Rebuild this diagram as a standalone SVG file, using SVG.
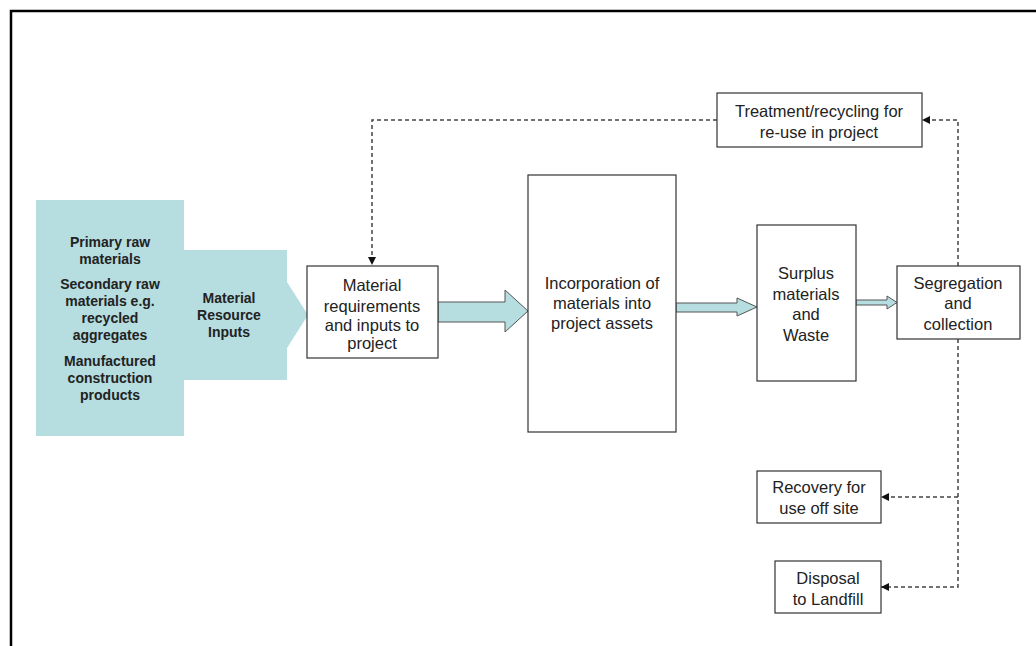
<svg xmlns="http://www.w3.org/2000/svg" width="1036" height="646" viewBox="0 0 1036 646">
<defs>
<style>
.box{fill:#fff;stroke:#333;stroke-width:1.2}
.t{font-family:"Liberation Sans",Arial,sans-serif;font-size:16.5px;fill:#222;text-anchor:middle}
.b{font-family:"Liberation Sans",Arial,sans-serif;font-size:14px;font-weight:bold;fill:#222;text-anchor:middle}
.blue{fill:#b6dde0;stroke:#555;stroke-width:1}
.dash{fill:none;stroke:#444;stroke-width:1.5;stroke-dasharray:4 3}
</style>
<marker id="ah" viewBox="0 0 10 10" refX="10" refY="5" markerWidth="8" markerHeight="8" markerUnits="userSpaceOnUse" orient="auto">
<path d="M0,0 L10,5 L0,10 Z" fill="#111"/>
</marker>
</defs>
<rect width="1036" height="646" fill="#fff"/>
<path d="M11,646 V11 H1036" fill="none" stroke="#000" stroke-width="2.5"/>

<g id="inputs">
<polygon points="36,200 184,200 184,250 287,250 287,282 308,315 287,348 287,380 184,380 184,436 36,436" fill="#b6dde0"/>
<text class="b" x="110" y="247">Primary raw</text>
<text class="b" x="110" y="264">materials</text>
<text class="b" x="110" y="289">Secondary raw</text>
<text class="b" x="110" y="306">materials e.g.</text>
<text class="b" x="110" y="323">recycled</text>
<text class="b" x="110" y="340">aggregates</text>
<text class="b" x="110" y="366">Manufactured</text>
<text class="b" x="110" y="383">construction</text>
<text class="b" x="110" y="400">products</text>
<text class="b" x="229" y="303">Material</text>
<text class="b" x="229" y="320">Resource</text>
<text class="b" x="229" y="337">Inputs</text>
</g>

<g id="connectors">
<polygon class="blue" points="438,302 505,302 505,290 528,311 505,332 505,322 438,322"/>
<polygon class="blue" points="676,303 737,303 737,298 757,307 737,316 737,312 676,312"/>
<polygon class="blue" points="856,300 887,300 887,296 897,302.5 887,309 887,305 856,305"/>
<path class="dash" d="M717,120 H372 V265" marker-end="url(#ah)"/>
<path class="dash" d="M958,266 V120 H922" marker-end="url(#ah)"/>
<path class="dash" d="M958,339 V587 H881" marker-end="url(#ah)"/>
<path class="dash" d="M958,497 H881" marker-end="url(#ah)"/>
</g>

<g id="requirements">
<rect class="box" x="307" y="266" width="131" height="92"/>
<text class="t" x="372" y="291">Material</text>
<text class="t" x="372" y="312">requirements</text>
<text class="t" x="372" y="331">and inputs to</text>
<text class="t" x="372" y="349">project</text>
</g>

<g id="incorporation">
<rect class="box" x="528" y="175" width="148" height="257"/>
<text class="t" x="602" y="289">Incorporation of</text>
<text class="t" x="602" y="309">materials into</text>
<text class="t" x="602" y="329">project assets</text>
</g>

<g id="surplus">
<rect class="box" x="757" y="225" width="99" height="156"/>
<text class="t" x="806" y="279">Surplus</text>
<text class="t" x="806" y="300">materials</text>
<text class="t" x="806" y="320">and</text>
<text class="t" x="806" y="341">Waste</text>
</g>

<g id="segregation">
<rect class="box" x="897" y="266" width="123" height="73"/>
<text class="t" x="958" y="289">Segregation</text>
<text class="t" x="958" y="309">and</text>
<text class="t" x="958" y="330">collection</text>
</g>

<g id="treatment">
<rect class="box" x="717" y="93" width="205" height="54"/>
<text class="t" x="819" y="117">Treatment/recycling for</text>
<text class="t" x="819" y="138">re-use in project</text>
</g>

<g id="recovery">
<rect class="box" x="757" y="471" width="124" height="52"/>
<text class="t" x="819" y="493">Recovery for</text>
<text class="t" x="819" y="514">use off site</text>
</g>

<g id="disposal">
<rect class="box" x="775" y="561" width="106" height="52"/>
<text class="t" x="828" y="584">Disposal</text>
<text class="t" x="828" y="605">to Landfill</text>
</g>
</svg>
